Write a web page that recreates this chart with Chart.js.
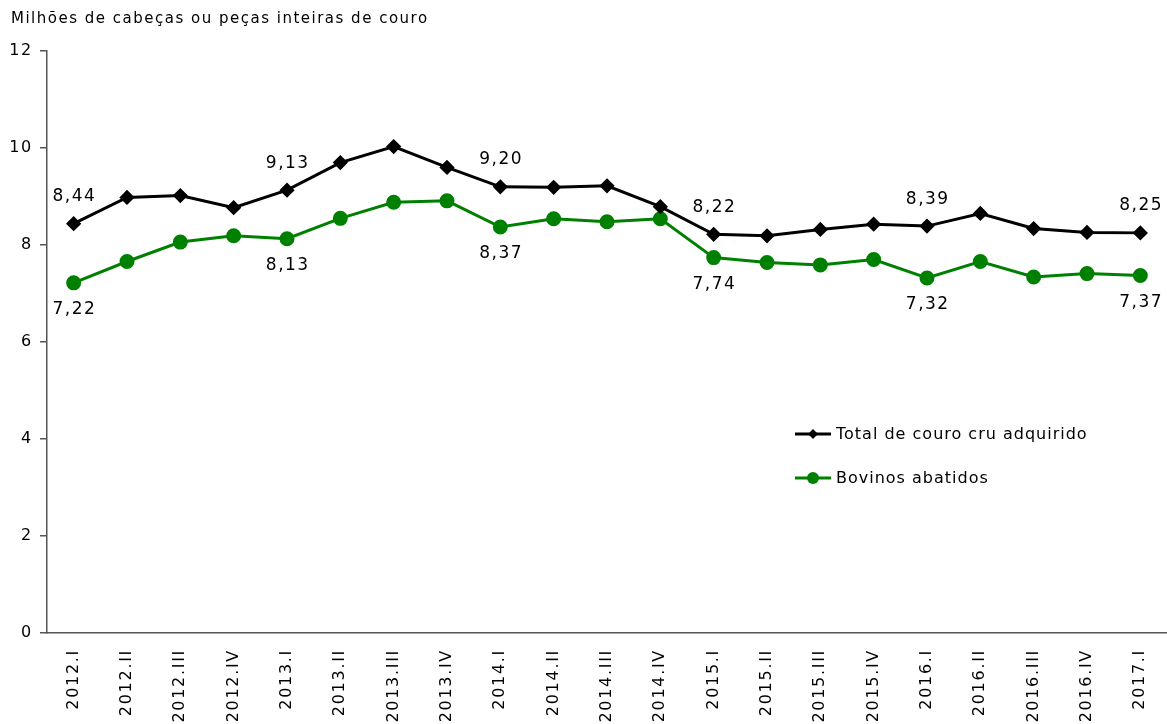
<!DOCTYPE html>
<html>
<head>
<meta charset="utf-8">
<script src="https://cdn.jsdelivr.net/npm/chart.js@4.4.1/dist/chart.umd.min.js"></script>
<style>
  html, body { margin: 0; padding: 0; background: #fff; }
  #wrap { width: 1167px; height: 724px; position: relative; }
</style>
</head>
<body>
<div id="wrap"><canvas id="c" width="1167" height="724"></canvas></div>
<script>
const categories = ["2012.I","2012.II","2012.III","2012.IV","2013.I","2013.II","2013.III","2013.IV","2014.I","2014.II","2014.III","2014.IV","2015.I","2015.II","2015.III","2015.IV","2016.I","2016.II","2016.III","2016.IV","2017.I"];
const totalCouro = [8.44,8.98,9.02,8.77,9.13,9.70,10.03,9.60,9.20,9.19,9.22,8.79,8.22,8.19,8.32,8.43,8.39,8.65,8.34,8.26,8.25];
const bovinos = [7.22,7.66,8.06,8.19,8.13,8.55,8.88,8.91,8.37,8.54,8.48,8.54,7.74,7.64,7.59,7.70,7.32,7.66,7.34,7.41,7.37];
const labeledIdx = [0,4,8,12,16,20];
const yTicks = [0,2,4,6,8,10,12];
const seriesNames = ["Total de couro cru adquirido","Bovinos abatidos"];
const titleText = "Milhões de cabeças ou peças inteiras de couro";

const FONT = "'DejaVu Sans', Verdana, sans-serif";
const LS = '1.7px';

function centerText(ctx, txt, x, y, ls) {
  // compensate trailing letter spacing for centered text
  ctx.fillText(txt, x + ls / 2, y);
}

const extras = {
  id: 'extras',
  beforeLayout(chart) { chart.ctx.letterSpacing = LS; },
  beforeDraw(chart) { chart.ctx.letterSpacing = LS; },
  afterDatasetsDraw(chart) {
    const ctx = chart.ctx;
    ctx.save();
    // title
    ctx.letterSpacing = '1.5px';
    ctx.font = "15px " + FONT;
    ctx.fillStyle = "#000";
    ctx.textAlign = "left";
    ctx.textBaseline = "middle";
    ctx.fillText(titleText, 11, 19);
    // data labels
    ctx.letterSpacing = '1.5px';
    ctx.font = "17px " + FONT;
    ctx.textAlign = "center";
    chart.data.datasets.forEach((ds, di) => {
      const meta = chart.getDatasetMeta(di);
      labeledIdx.forEach(i => {
        const p = meta.data[i];
        const txt = ds.data[i].toFixed(2).replace('.', ',');
        const dy = di === 0 ? -27 : 27;
        centerText(ctx, txt, p.x, p.y + dy, 1.5);
      });
    });
    // legend
    const lx = 795, lys = [434, 478];
    chart.data.datasets.forEach((ds, di) => {
      const y = lys[di];
      ctx.strokeStyle = ds.borderColor;
      ctx.lineWidth = 3;
      ctx.beginPath();
      ctx.moveTo(lx, y);
      ctx.lineTo(lx + 36, y);
      ctx.stroke();
      ctx.fillStyle = ds.pointBackgroundColor;
      ctx.beginPath();
      if (di === 0) {
        const r = 5;
        ctx.moveTo(lx + 18, y - r);
        ctx.lineTo(lx + 18 + r, y);
        ctx.lineTo(lx + 18, y + r);
        ctx.lineTo(lx + 18 - r, y);
        ctx.closePath();
      } else {
        ctx.arc(lx + 18, y, 6, 0, Math.PI * 2);
      }
      ctx.fill();
      ctx.fillStyle = "#000";
      ctx.letterSpacing = '1px';
      ctx.font = "16px " + FONT;
      ctx.textAlign = "left";
      ctx.textBaseline = "middle";
      ctx.fillText(ds.label, lx + 41, y + 1);
    });
    ctx.restore();
  }
};

new Chart(document.getElementById('c'), {
  type: 'line',
  data: {
    labels: categories,
    datasets: [
      {
        label: seriesNames[0],
        data: totalCouro,
        borderColor: '#000000',
        backgroundColor: '#000000',
        pointBackgroundColor: '#000000',
        pointBorderColor: '#000000',
        pointStyle: 'rectRot',
        pointRadius: 5.5,
        borderWidth: 3,
        tension: 0
      },
      {
        label: seriesNames[1],
        data: bovinos,
        borderColor: '#008000',
        backgroundColor: '#008000',
        pointBackgroundColor: '#008000',
        pointBorderColor: '#008000',
        pointStyle: 'circle',
        pointRadius: 6,
        borderWidth: 3,
        tension: 0
      }
    ]
  },
  options: {
    responsive: false,
    animation: false,
    layout: { autoPadding: false, padding: { top: 51, left: 0, right: 0, bottom: 0 } },
    plugins: {
      legend: { display: false },
      title: { display: false },
      tooltip: { enabled: false }
    },
    scales: {
      x: {
        offset: true,
        grid: { display: false, drawTicks: false },
        border: { display: true, color: '#555', width: 1.5 },
        ticks: {
          minRotation: 90, maxRotation: 90, autoSkip: false,
          padding: 16,
          color: '#000',
          font: { size: 16, family: FONT }
        },
        afterFit(scale) { scale.height = 91; scale.paddingLeft = 0; scale.paddingRight = 0; }
      },
      y: {
        min: 0, max: 12,
        afterBuildTicks(scale) { scale.ticks = yTicks.map(v => ({ value: v })); },
        grid: { drawOnChartArea: false, drawTicks: true, tickLength: 7, color: '#555', lineWidth: 1.5 },
        border: { display: true, color: '#555', width: 1.5 },
        ticks: {
          padding: 7,
          color: '#000',
          font: { size: 16, family: FONT }
        },
        afterFit(scale) { scale.width = 47; scale.paddingTop = 0; scale.paddingBottom = 0; }
      }
    }
  },
  plugins: [extras]
});
</script>
</body>
</html>
